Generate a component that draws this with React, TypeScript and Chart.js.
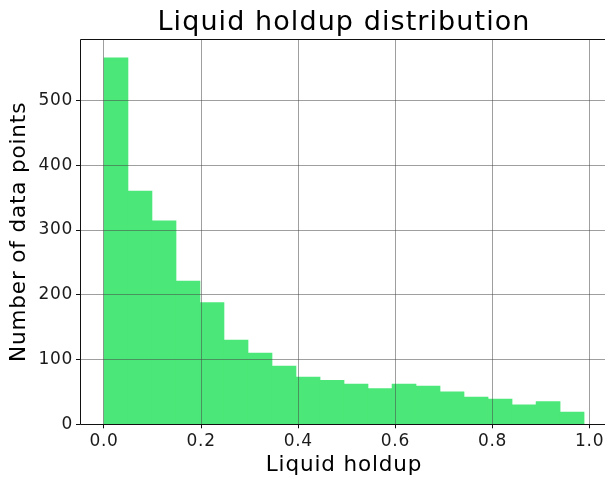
import React, { useEffect, useRef } from "react";
import { Chart, registerables } from "chart.js";

Chart.register(...registerables);

// Histogram bin centres (20 bins from 0 to ~0.989)
const binCenters = [
  0.0247, 0.0741, 0.1236, 0.173, 0.2224, 0.2719, 0.3213, 0.3707, 0.4202, 0.4696,
  0.519, 0.5684, 0.6179, 0.6673, 0.7167, 0.7662, 0.8156, 0.865, 0.9145, 0.9639,
];
const counts = [
  566, 360, 314, 221, 188, 130, 110, 90, 73, 68,
  62, 55, 62, 59, 50, 42, 39, 30, 35, 19,
];
const xRange = [-0.0494, 1.0379];
const yRange = [0, 594.3];
const xTicks = [0, 0.2, 0.4, 0.6, 0.8, 1.0];
const yTicks = [0, 100, 200, 300, 400, 500];

const titleText = "Liquid holdup distribution";
const xLabel = "Liquid holdup";
const yLabel = "Number of data points";

const FONT = "'DejaVu Sans', sans-serif";
const BAR_COLOR = "#4be778";
const GRID_COLOR = "rgba(70,70,70,0.52)";
const LETTER_SPACING_EM = 0.04;

export default function App() {
  const ref = useRef<HTMLCanvasElement | null>(null);

  useEffect(() => {
    const canvas = ref.current;
    if (!canvas) return;
    const ctx: any = canvas.getContext("2d");
    if (ctx) {
      const origFill = ctx.fillText.bind(ctx);
      const origMeasure = ctx.measureText.bind(ctx);
      const applySpacing = () => {
        const m = /(\d+(?:\.\d+)?)px/.exec(ctx.font);
        if (m && "letterSpacing" in ctx) {
          ctx.letterSpacing = (parseFloat(m[1]) * LETTER_SPACING_EM).toFixed(2) + "px";
        }
      };
      ctx.fillText = (t: string, x: number, y: number, mw?: number) => {
        applySpacing();
        return mw === undefined ? origFill(t, x, y) : origFill(t, x, y, mw);
      };
      ctx.measureText = (t: string) => {
        applySpacing();
        return origMeasure(t);
      };
    }

    const spines = {
      id: "spines",
      afterDraw(chart: any) {
        const { ctx: c, chartArea: a } = chart;
        c.save();
        c.strokeStyle = "#111";
        c.lineWidth = 1;
        const l = Math.round(a.left) + 0.5;
        const t = Math.round(a.top) + 0.5;
        const r = Math.round(a.right) - 0.5;
        const b = Math.round(a.bottom) + 0.5;
        c.beginPath();
        c.moveTo(l, t);
        c.lineTo(r, t);
        c.lineTo(r, b);
        c.lineTo(l, b);
        c.closePath();
        c.stroke();
        c.restore();
      },
    };

    const chart = new Chart(canvas, {
      type: "bar",
      data: {
        datasets: [
          {
            data: binCenters.map((x, i) => ({ x, y: counts[i] })),
            backgroundColor: BAR_COLOR,
            borderWidth: 0,
            barPercentage: 1,
            categoryPercentage: 1,
          } as any,
        ],
      },
      options: {
        animation: false,
        responsive: false,
        maintainAspectRatio: false,
        layout: { padding: 0 },
        plugins: {
          legend: { display: false },
          tooltip: { enabled: false },
          title: {
            display: true,
            text: titleText,
            color: "#000",
            fullSize: false,
            font: { family: FONT, size: 27, weight: "normal" as any },
            padding: { top: 7, bottom: 0 },
          },
        },
        scales: {
          x: {
            type: "linear",
            min: xRange[0],
            max: xRange[1],
            offset: false,
            border: { display: false },
            grid: {
              offset: false,
              color: GRID_COLOR,
              lineWidth: 1,
              tickColor: "#111",
              tickLength: 4,
              z: 1,
            } as any,
            ticks: {
              autoSkip: false,
              maxRotation: 0,
              padding: 3,
              color: "#1a1a1a",
              font: { family: FONT, size: 17 },
              callback: (v: any) => Number(v).toFixed(1),
            },
            afterBuildTicks: (s: any) => {
              s.ticks = xTicks.map((value) => ({ value }));
            },
            title: {
              display: true,
              text: xLabel,
              color: "#000",
              font: { family: FONT, size: 21.5 },
              padding: { top: 0, bottom: 1 },
            },
            afterFit: (s: any) => {
              s.height = 54.7;
            },
          },
          y: {
            type: "linear",
            min: yRange[0],
            max: yRange[1],
            border: { display: false },
            grid: {
              color: GRID_COLOR,
              lineWidth: 1,
              tickColor: "#111",
              tickLength: 4,
              z: 1,
            } as any,
            ticks: {
              autoSkip: false,
              padding: 3,
              color: "#1a1a1a",
              font: { family: FONT, size: 17 },
              callback: (v: any) => String(Math.round(Number(v))),
            },
            afterBuildTicks: (s: any) => {
              s.ticks = yTicks.map((value) => ({ value }));
            },
            title: {
              display: true,
              text: yLabel,
              color: "#000",
              font: { family: FONT, size: 21.5 },
              padding: { top: 6.4, bottom: 0 },
            },
            afterFit: (s: any) => {
              s.width = 80;
            },
          },
        },
      },
      plugins: [spines],
    });

    return () => chart.destroy();
  }, []);

  return (
    <div
      style={{
        position: "fixed",
        left: 0,
        top: 0,
        width: 605,
        height: 479,
        overflow: "hidden",
        background: "#fff",
      }}
    >
      <canvas
        ref={ref}
        width={608}
        height={479}
        style={{ display: "block", width: 608, height: 479 }}
      />
    </div>
  );
}
